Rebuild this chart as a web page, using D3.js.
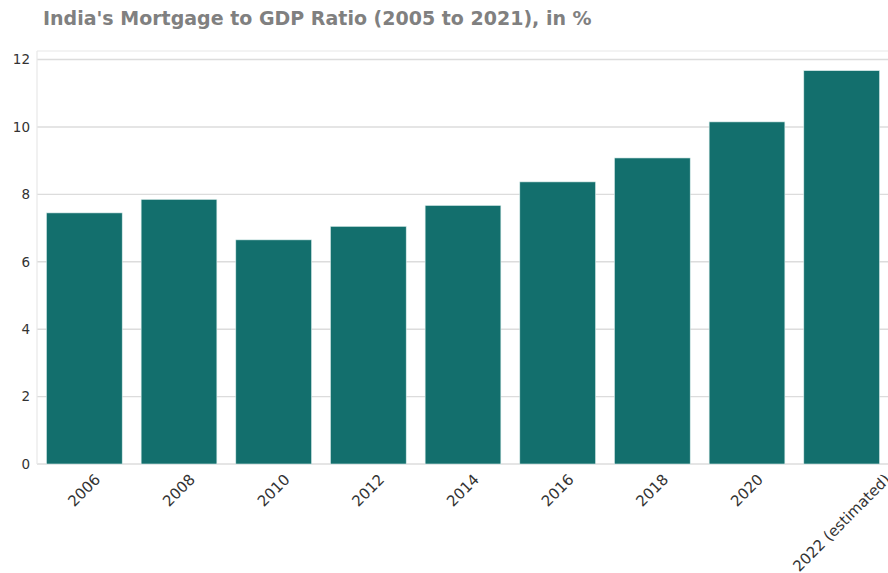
<!DOCTYPE html>
<html>
<head>
<meta charset="utf-8">
<script src="https://cdn.jsdelivr.net/npm/d3@7"></script>
<style>
  body { margin: 0; background: #fff; }
  text { font-family: "DejaVu Sans", sans-serif; }
</style>
</head>
<body>
<div id="chart"></div>
<script>
var years = ["2006", "2008", "2010", "2012", "2014", "2016", "2018", "2020", "2022 (estimated)"];
var ratios = [7.45, 7.85, 6.65, 7.05, 7.67, 8.37, 9.08, 10.15, 11.67];
var yTicks = [0, 2, 4, 6, 8, 10, 12];

var width = 888, height = 573;
var margin = { top: 51, right: -1, bottom: 109, left: 37 };

var svg = d3.select("#chart").append("svg")
  .attr("width", width)
  .attr("height", height);

var x = d3.scaleBand()
  .domain(years)
  .range([margin.left, width - margin.right])
  .paddingInner(0.2)
  .paddingOuter(0.1);

var y = d3.scaleLinear()
  .domain([0, d3.max(ratios) * 1.05])
  .range([height - margin.bottom, margin.top]);

// title
svg.append("text")
  .attr("x", 43)
  .attr("y", 25)
  .attr("font-size", 19)
  .attr("font-weight", "bold")
  .attr("fill", "#808080")
  .text("India's Mortgage to GDP Ratio (2005 to 2021), in %");

// grid
svg.append("g")
  .selectAll("line")
  .data(yTicks)
  .join("line")
  .attr("x1", margin.left)
  .attr("x2", width)
  .attr("y1", function (d) { return y(d); })
  .attr("y2", function (d) { return y(d); })
  .attr("stroke", "#dcdcdc")
  .attr("stroke-width", 1.4);

// spines
svg.append("line")
  .attr("x1", margin.left).attr("x2", width)
  .attr("y1", margin.top).attr("y2", margin.top)
  .attr("stroke", "#e8e8e8").attr("stroke-width", 1.2);
svg.append("line")
  .attr("x1", margin.left).attr("x2", margin.left)
  .attr("y1", margin.top).attr("y2", height - margin.bottom)
  .attr("stroke", "#e8e8e8").attr("stroke-width", 1.2);

// bars
svg.append("g")
  .selectAll("rect")
  .data(ratios)
  .join("rect")
  .attr("x", function (d, i) { return x(years[i]); })
  .attr("width", x.bandwidth())
  .attr("y", function (d) { return y(d); })
  .attr("height", function (d) { return y(0) - y(d); })
  .attr("fill", "#136f6d")
  .attr("stroke", "#d8ecea")
  .attr("stroke-width", 0.6);

// y axis
var yAxis = svg.append("g")
  .attr("transform", "translate(" + margin.left + ",0)")
  .call(d3.axisLeft(y).tickValues(yTicks).tickSize(0).tickPadding(7));
yAxis.select(".domain").remove();
yAxis.selectAll("text")
  .attr("font-size", 13.5)
  .attr("fill", "#333")
  .style("font-family", "DejaVu Sans, sans-serif");

// x axis, rotated labels centred like matplotlib (ha=center)
var xAxis = svg.append("g")
  .attr("transform", "translate(0," + y(0) + ")")
  .call(d3.axisBottom(x).tickSize(0).tickFormat(""));
xAxis.select(".domain").remove();

var labels = svg.append("g")
  .selectAll("text")
  .data(years)
  .join("text")
  .attr("font-size", 15)
  .attr("fill", "#333")
  .attr("text-anchor", "middle")
  .attr("dominant-baseline", "central")
  .text(function (d) { return d; });

labels.each(function (d) {
  var w = this.getComputedTextLength();
  var h = 11;
  var side = (w + h) * Math.SQRT1_2;
  var cx = x(d) + x.bandwidth() / 2;
  var cy = y(0) + 9 + side / 2;
  d3.select(this)
    .attr("transform", "translate(" + cx + "," + cy + ") rotate(-45)");
});
</script>
</body>
</html>
